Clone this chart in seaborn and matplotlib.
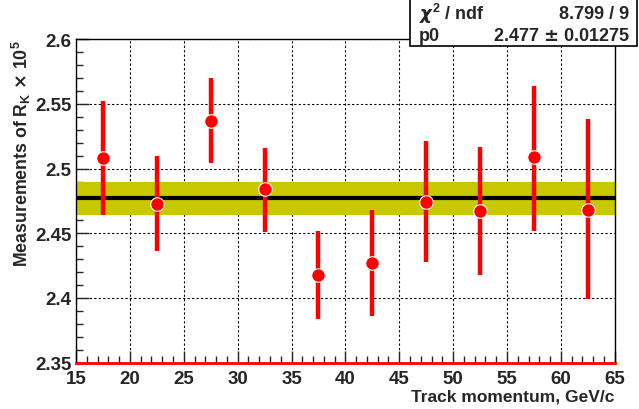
import numpy as np
import pandas as pd
import seaborn as sns
import matplotlib.pyplot as plt
from matplotlib.patches import Rectangle
from matplotlib.ticker import MultipleLocator

# measurements of R_K (x 10^5) per track momentum bin
momentum = [17.5, 22.5, 27.5, 32.5, 37.5, 42.5, 47.5, 52.5, 57.5, 62.5]
rk = [2.508, 2.473, 2.537, 2.484, 2.418, 2.427, 2.474, 2.467, 2.509, 2.468]
err_up = [2.552, 2.510, 2.570, 2.516, 2.452, 2.468, 2.521, 2.517, 2.564, 2.538]
err_down = [2.464, 2.436, 2.504, 2.451, 2.384, 2.386, 2.428, 2.418, 2.452, 2.399]

# fit result
fit_p0 = 2.477
fit_p0_err = 0.01275
chi2_ndf = "8.799 / 9"

df = pd.DataFrame({"momentum": momentum, "rk": rk})
yerr = [np.array(rk) - np.array(err_down), np.array(err_up) - np.array(rk)]

sns.set_style("ticks")
plt.rcParams["font.family"] = ["Liberation Sans", "DejaVu Sans"]
plt.rcParams["font.weight"] = "bold"

fig = plt.figure(figsize=(6.39, 4.10), dpi=100)
ax = fig.add_axes([0.119, 0.113, 0.843, 0.789])

ax.axhspan(fit_p0 - fit_p0_err, fit_p0 + fit_p0_err, color="#c8c800", lw=0, zorder=1)
ax.axhline(fit_p0, color="black", lw=3, zorder=2)

ax.errorbar(momentum, rk, yerr=yerr, fmt="none", ecolor="#ff0000", elinewidth=3.2, capsize=0, zorder=3)
sns.scatterplot(data=df, x="momentum", y="rk", ax=ax, color="#ff0000", s=95,
                edgecolor="white", linewidth=0.8, zorder=4)

ax.set_xlim(15, 65)
ax.set_ylim(2.35, 2.6)
ax.xaxis.set_major_locator(MultipleLocator(5))
ax.xaxis.set_minor_locator(MultipleLocator(1))
ax.yaxis.set_minor_locator(MultipleLocator(0.01))
ax.set_yticks([2.35, 2.4, 2.45, 2.5, 2.55, 2.6])
ax.set_yticklabels(["2.35", "2.4", "2.45", "2.5", "2.55", "2.6"])
ax.tick_params(which="major", direction="in", length=9, width=1, labelsize=13.5)
ax.tick_params(axis="x", which="major", pad=5)
ax.tick_params(axis="y", which="major", pad=3)
ax.tick_params(which="minor", direction="in", length=5, width=1)
ax.tick_params(top=False, right=False)
ax.grid(True, which="major", color="black", ls=(0, (2, 2)), lw=0.8)

for s in ax.spines.values():
    s.set_color("black")
    s.set_linewidth(1)
ax.spines["bottom"].set_color("#ff0000")
ax.spines["bottom"].set_linewidth(2)

ax.set_xlabel("")
ax.set_ylabel("")
fig.text(0.962, 0.021, "Track momentum, GeV/c", fontsize=12.5, fontweight="bold",
         ha="right", va="baseline")
fig.text(0.034, 0.902, r"Measurements of R$_\mathregular{K}$ $\times$ 10$^\mathregular{5}$", fontsize=12.8,
         fontweight="bold", rotation=90, ha="center", va="top")

# stats box
fig.patches.append(Rectangle((0.642, 0.885), 0.355, 0.2, transform=fig.transFigure,
                             facecolor="white", edgecolor="black", lw=1.2, zorder=10))
fig.text(0.655, 0.965, r"$\chi^\mathregular{2}$ / ndf", fontsize=13, fontweight="bold", va="center", zorder=11)
fig.text(0.985, 0.965, chi2_ndf, fontsize=13, fontweight="bold", va="center", ha="right", zorder=11)
fig.text(0.655, 0.91, "p0", fontsize=13, fontweight="bold", va="center", zorder=11)
fig.text(0.985, 0.91, f"{fit_p0} $\\pm$ {fit_p0_err}", fontsize=13, fontweight="bold",
         va="center", ha="right", zorder=11)

fig.savefig("out.png", dpi=100, facecolor="white")
